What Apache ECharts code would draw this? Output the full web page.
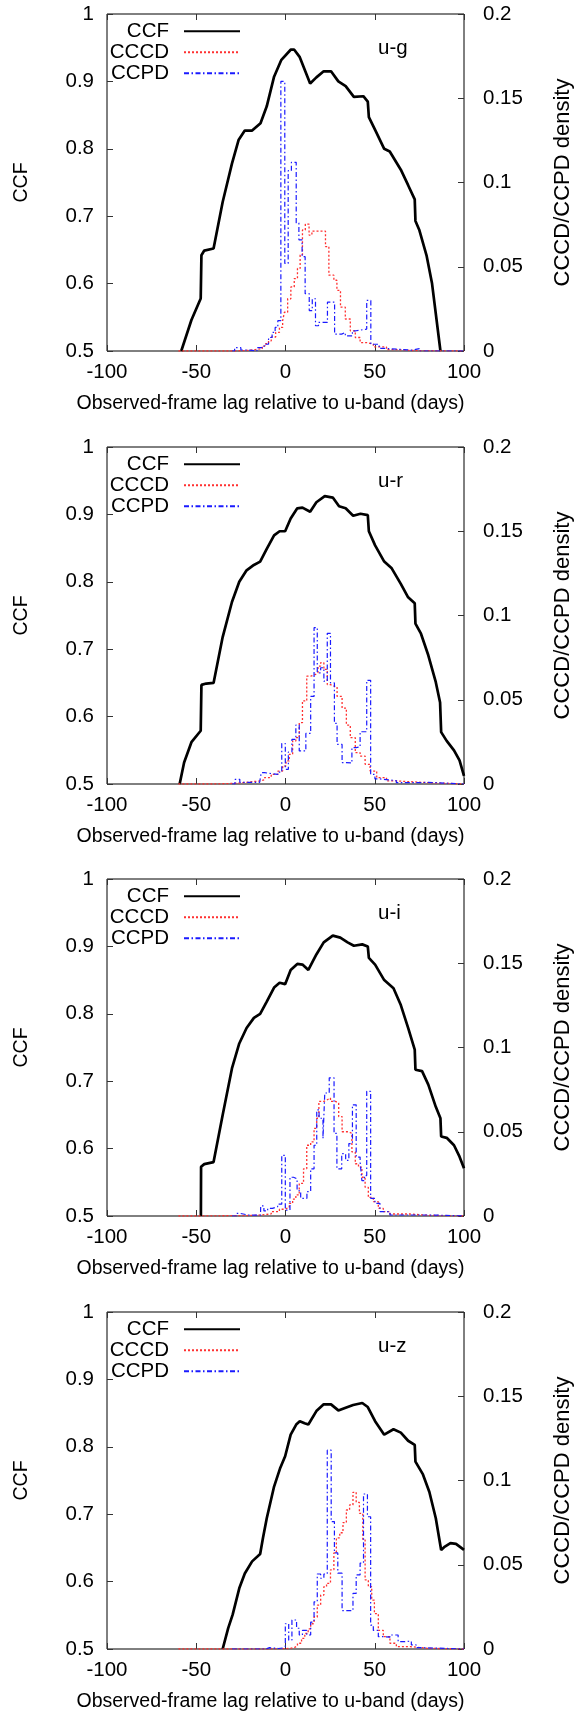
<!DOCTYPE html>
<html><head><meta charset="utf-8">
<script src="https://cdn.jsdelivr.net/npm/echarts@6/dist/echarts.min.js"></script>
<style>html,body{margin:0;padding:0;background:#fff}#c{width:582px;height:1714px}</style>
</head><body><div id="c"></div>
<script>
// ---------- tick labels / names ----------
const xTickLabels = ['-100', '-50', '0', '50', '100'];
const ccfTickLabels = ['0.5', '0.6', '0.7', '0.8', '0.9', '1'];
const densityTickLabels = ['0', '0.05', '0.1', '0.15', '0.2'];
const panelNames = ['u-g', 'u-r', 'u-i', 'u-z'];
const seriesNames = ['CCF', 'CCCD', 'CCPD'];

// ---------- CCF curves [lag, r] ----------
const ccfUG = [[-58.4,0.5],[-52.7,0.546],[-47.5,0.578],[-47.1,0.642],[-45.5,0.649],[-40.3,0.652],[-35.2,0.721],[-30.0,0.778],[-26.3,0.813],[-22.8,0.827],[-18.7,0.827],[-14.0,0.838],[-10.5,0.863],[-6.4,0.907],[-2.3,0.932],[2.9,0.947],[4.9,0.947],[8.0,0.936],[13.8,0.897],[17.3,0.906],[21.4,0.915],[25.5,0.915],[29.6,0.900],[33.7,0.893],[38.3,0.877],[43.6,0.878],[46.1,0.870],[46.7,0.847],[50.2,0.828],[55.3,0.800],[58.4,0.796],[64.6,0.769],[68.7,0.746],[72.4,0.725],[72.8,0.693],[74.9,0.680],[79.0,0.642],[82.1,0.600],[86.8,0.5]];
const ccfUR = [[-59.3,0.5],[-56.8,0.532],[-52.7,0.562],[-47.5,0.579],[-47.1,0.647],[-44.4,0.649],[-40.3,0.650],[-35.2,0.718],[-30.0,0.770],[-25.9,0.800],[-21.8,0.817],[-17.7,0.825],[-14.2,0.830],[-10.5,0.849],[-6.4,0.869],[-3.3,0.875],[-0.2,0.875],[2.9,0.894],[6.6,0.909],[9.5,0.910],[13.8,0.904],[17.3,0.918],[22.0,0.927],[26.5,0.925],[30.0,0.912],[33.7,0.909],[37.9,0.898],[42.0,0.901],[46.1,0.899],[46.7,0.875],[50.2,0.854],[55.3,0.830],[59.5,0.820],[64.6,0.797],[68.7,0.777],[72.4,0.768],[72.8,0.738],[75.9,0.723],[80.0,0.691],[84.2,0.651],[86.6,0.621],[87.2,0.577],[90.3,0.564],[94.4,0.550],[97.5,0.535],[100,0.512]];
const ccfUI = [[-47.4,0.5],[-47.3,0.573],[-45.5,0.577],[-40.3,0.580],[-35.2,0.650],[-30.0,0.719],[-25.9,0.756],[-21.8,0.779],[-17.7,0.794],[-14.2,0.800],[-10.5,0.818],[-6.4,0.839],[-3.3,0.846],[-0.2,0.844],[2.9,0.865],[6.6,0.874],[9.5,0.873],[12.8,0.865],[17.3,0.888],[21.4,0.906],[26.5,0.916],[30.7,0.913],[34.8,0.906],[38.3,0.901],[43.0,0.903],[46.1,0.900],[46.7,0.883],[50.2,0.873],[55.3,0.850],[60.5,0.838],[64.6,0.813],[68.7,0.779],[72.4,0.747],[72.8,0.717],[76.5,0.715],[80.0,0.695],[84.2,0.662],[86.8,0.645],[87.2,0.618],[90.3,0.616],[94.4,0.605],[97.5,0.588],[100,0.571]];
const ccfUZ = [[-35.2,0.5],[-32.1,0.531],[-29.6,0.551],[-25.9,0.590],[-22.8,0.612],[-18.7,0.630],[-14.2,0.641],[-12.6,0.665],[-10.5,0.694],[-6.4,0.741],[-2.9,0.769],[-0.2,0.786],[2.9,0.818],[6.0,0.833],[8.0,0.838],[10.7,0.835],[12.8,0.833],[17.3,0.853],[21.4,0.863],[25.5,0.863],[29.6,0.854],[33.7,0.858],[37.9,0.862],[43.0,0.865],[46.1,0.859],[50.2,0.838],[55.3,0.818],[60.5,0.826],[64.6,0.821],[68.7,0.809],[72.4,0.803],[72.8,0.778],[77.0,0.759],[80.6,0.733],[84.2,0.694],[87.2,0.647],[89.3,0.652],[92.4,0.657],[95.5,0.656],[100,0.647]];

// ---------- CCCD histograms [bin left edge, density] ----------
const cccdUG = [[-60,0],[-28,0.0004],[-20,0.0008],[-17,0.0014],[-13,0.003],[-11.5,0.0044],[-9.5,0.006],[-8,0.0083],[-5.5,0.011],[-3.4,0.014],[-1.6,0.018],[-0.6,0.023],[1.2,0.031],[3.0,0.038],[4.9,0.043],[6.7,0.049],[8.2,0.057],[9.5,0.0718],[11.1,0.0753],[13.2,0.0688],[14.8,0.0711],[22.4,0.062],[24.3,0.045],[27.1,0.042],[28.8,0.036],[30.8,0.026],[33.5,0.019],[36.3,0.012],[39.1,0.008],[41.8,0.005],[45.5,0.004],[49.2,0.0024],[56.6,0.0008],[62,0.0003],[70,0],[100,0]];
const cccdUR = [[-60,0],[-40,0.0004],[-28,0.0012],[-20,0.0018],[-14.5,0.0025],[-11.7,0.0038],[-8,0.0057],[-4.3,0.0077],[-1.6,0.0107],[0.3,0.0137],[2.1,0.0176],[4,0.0255],[5.8,0.0275],[7.7,0.0364],[9.5,0.0493],[11.9,0.064],[14.1,0.065],[16.9,0.066],[18.2,0.070],[19.7,0.072],[21.5,0.068],[23.4,0.059],[25.2,0.058],[27.4,0.0576],[28.9,0.052],[31.7,0.045],[34.1,0.035],[36.3,0.0275],[39.1,0.0186],[41.8,0.0166],[44.6,0.0117],[47.4,0.0077],[51.1,0.0038],[56.6,0.0018],[62.1,0.0008],[80,0],[100,0]];
const cccdUI = [[-60,0],[-48,0.0003],[-20,0.0006],[-13.6,0.0012],[-8,0.0026],[-3.4,0.004],[-0.6,0.005],[2.1,0.0075],[4,0.010],[5.8,0.0125],[7.7,0.0194],[10.1,0.028],[11.9,0.042],[14.1,0.044],[16,0.052],[17.5,0.058],[18.7,0.068],[21.5,0.069],[23.4,0.070],[25.2,0.068],[28,0.067],[29.8,0.059],[31.7,0.050],[35.4,0.049],[37.2,0.038],[39.1,0.031],[40.9,0.029],[42.8,0.023],[44.6,0.017],[46.4,0.011],[49.2,0.0085],[52,0.0045],[54.8,0.0026],[58.5,0.0012],[69.5,0.0004],[80,0],[100,0]];
const cccdUZ = [[-60,0],[-10,0.0003],[2.1,0.0008],[4.9,0.0018],[6.7,0.0034],[9,0.0063],[10.8,0.0093],[12.7,0.012],[14.1,0.015],[16,0.019],[17.8,0.026],[19.7,0.032],[21.5,0.037],[23,0.039],[25.2,0.047],[27.1,0.057],[28.5,0.066],[30.4,0.069],[32.2,0.075],[34.1,0.0825],[35.9,0.0855],[37.8,0.093],[39.6,0.087],[41.4,0.0805],[43.3,0.0647],[44.6,0.041],[46.4,0.037],[48.3,0.029],[49.8,0.021],[52,0.011],[54.8,0.0073],[58.5,0.0034],[62.1,0.0014],[70,0.0004],[80,0],[100,0]];

// ---------- CCPD histograms [bin left edge, density] ----------
const ccpdUG = [[-30,0],[-28.5,0.002],[-25,0.0006],[-21,0],[-16,0.002],[-12,0.004],[-9.5,0.008],[-7.5,0.011],[-5.8,0.014],[-4.3,0.018],[-2.6,0.160],[-0.4,0.052],[1.5,0.107],[3.3,0.112],[6.0,0.076],[7.5,0.066],[9.3,0.056],[11.0,0.034],[13.3,0.024],[15.0,0.031],[16.8,0.015],[18.5,0.017],[23.5,0.029],[27.5,0.010],[31.5,0.011],[33.5,0.009],[37.5,0.012],[39.5,0.013],[45.5,0.030],[47.8,0.004],[52.5,0.0015],[56,0.0005],[71,0.0014],[75,0],[100,0]];
const ccpdUR = [[-30,0],[-28.3,0.0028],[-25.6,0.001],[-21.9,0.001],[-14.5,0.0015],[-13.6,0.0067],[-11.7,0.0057],[-4.3,0.007],[-2.1,0.024],[-0.1,0.0087],[1.6,0.019],[3.6,0.0265],[5.8,0.035],[7.7,0.0196],[11.4,0.030],[14.1,0.052],[16.0,0.0928],[17.8,0.066],[19.7,0.069],[21.5,0.061],[23.4,0.0894],[25.2,0.060],[27.4,0.036],[28.9,0.0235],[31.7,0.0127],[34.1,0.0125],[37.2,0.0216],[39.6,0.022],[41.8,0.031],[45.5,0.0615],[47.7,0.0057],[50.1,0.003],[52.9,0.002],[62.1,0.0008],[75,0.001],[80,0],[100,0]];
const ccpdUI = [[-30,0],[-27.4,0.0016],[-25.6,0.0006],[-21,0.0005],[-14,0.0006],[-13.9,0.006],[-12.1,0.003],[-10,0.0045],[-7.3,0.0055],[-4.4,0.007],[-2.1,0.036],[-0.1,0.0035],[2.5,0.023],[4.5,0.022],[6.5,0.015],[8.5,0.0105],[12.0,0.0145],[14.1,0.028],[16.0,0.042],[17.5,0.063],[18.8,0.058],[21.0,0.046],[22.0,0.073],[24.5,0.082],[27.2,0.049],[28.8,0.028],[31.5,0.037],[33.7,0.033],[35.5,0.043],[37.5,0.066],[39.6,0.035],[41.8,0.032],[42.8,0.021],[44.2,0.024],[45.5,0.074],[47.7,0.0105],[50.1,0.0075],[52.9,0.0026],[58.5,0.0006],[80,0.0004],[90,0],[100,0]];
const ccpdUZ = [[-30,0],[-10.8,0.0008],[-9,0.0003],[-4,0.0006],[-1.6,0.0015],[-0.1,0.015],[1.8,0.0053],[3.6,0.0172],[6.2,0.0123],[7.7,0.0083],[9.5,0.011],[11.9,0.0083],[14.1,0.016],[16.0,0.028],[17.8,0.0445],[19.7,0.042],[21.5,0.0445],[23.4,0.118],[25.6,0.0756],[27.4,0.057],[29.3,0.045],[31.7,0.0228],[37.8,0.033],[39.6,0.044],[41.8,0.051],[43.7,0.092],[45.9,0.0785],[47.7,0.0142],[49.2,0.011],[52.0,0.0073],[54.8,0.007],[58.5,0.0083],[63.1,0.0044],[66.8,0.0047],[70.5,0.0024],[73.2,0.0008],[77,0],[100,0]];

const panelData = [
  [ccfUG, cccdUG, ccpdUG],
  [ccfUR, cccdUR, ccpdUR],
  [ccfUI, cccdUI, ccpdUI],
  [ccfUZ, cccdUZ, ccpdUZ]
];

// ---------- layout / style ----------
const FONT = '"Liberation Sans", Arial, Helvetica, sans-serif';
const gridTops = [14, 447, 879, 1312];
const gridLeft = 107, gridWidth = 361, gridHeight = 337;
const pick = (labels) => (v) => { const l = labels.find(s => Math.abs(+s - v) < 1e-9); return l === undefined ? '' : l; };
const tickStyle = { inside: true, length: 6, lineStyle: { color: '#333', width: 1 } };
const labelStyle = { color: '#000', fontSize: 20.5, fontFamily: FONT };
const noLine = { show: false, onZero: false };
const lineStyles = [
  { color: '#000', width: 2.7, type: 'solid' },
  { color: '#ff3030', width: 1.3, type: [2, 2] },
  { color: '#1a1aff', width: 1.2, type: [5, 2.5, 1.5, 2.5] }
];

const grid = [], xAxis = [], yAxis = [], series = [], legend = [], title = [];
panelNames.forEach((pname, i) => {
  const top = gridTops[i];
  grid.push({ left: gridLeft, top: top, width: gridWidth, height: gridHeight, show: true, borderColor: '#000', borderWidth: 1, backgroundColor: 'transparent' });
  xAxis.push({
    gridIndex: i, type: 'value', min: -100, max: 100, interval: 50, position: 'bottom',
    axisLine: noLine, axisTick: tickStyle, splitLine: { show: false },
    axisLabel: Object.assign({ margin: 11, formatter: pick(xTickLabels) }, labelStyle),
    name: 'Observed-frame lag relative to u-band (days)', nameLocation: 'middle', nameGap: 43,
    nameTextStyle: { color: '#000', fontSize: 19.5, fontFamily: FONT, padding: [0, 30, 0, 0] }
  });
  xAxis.push({
    gridIndex: i, type: 'value', min: -100, max: 100, interval: 50, position: 'top',
    axisLine: noLine, axisTick: tickStyle, splitLine: { show: false }, axisLabel: { show: false }
  });
  yAxis.push({
    gridIndex: i, type: 'value', min: 0.5, max: 1, interval: 0.1, position: 'left',
    axisLine: noLine, axisTick: tickStyle, splitLine: { show: false },
    axisLabel: Object.assign({ margin: 13, formatter: pick(ccfTickLabels) }, labelStyle),
    name: 'CCF', nameLocation: 'middle', nameRotate: 90, nameGap: 75.5,
    nameTextStyle: { color: '#000', fontSize: 19.5, fontFamily: FONT }
  });
  yAxis.push({
    gridIndex: i, type: 'value', min: 0, max: 0.2, interval: 0.05, position: 'right',
    axisLine: noLine, axisTick: tickStyle, splitLine: { show: false },
    axisLabel: Object.assign({ margin: 19, formatter: pick(densityTickLabels) }, labelStyle),
    name: 'CCCD/CCPD density', nameLocation: 'middle', nameRotate: 90, nameGap: 88,
    nameTextStyle: { color: '#000', fontSize: 22, fontFamily: FONT }
  });
  panelData[i].forEach((d, k) => {
    series.push({
      name: seriesNames[k], type: 'line', xAxisIndex: 2 * i, yAxisIndex: k === 0 ? 2 * i : 2 * i + 1,
      data: d, symbol: 'none', step: k === 0 ? false : 'end', smooth: false,
      lineStyle: lineStyles[k], silent: true, animation: false, z: 3 + k, clip: true
    });
    legend.push({
      data: [seriesNames[k]], orient: 'vertical', right: 582 - 241, top: top + 16.7 + 21 * k - 10,
      align: 'right', itemWidth: 56, itemHeight: 20, padding: 0, selectedMode: false,
      itemStyle: { color: 'rgba(0,0,0,0)', borderWidth: 0, opacity: 0 },
      textStyle: { color: '#000', fontSize: 20.5, fontFamily: FONT, padding: [0, 10, 0, 0] }
    });
  });
  title.push({ text: pname, left: 378, top: top + 24, padding: 0,
    textStyle: { color: '#000', fontSize: 20.5, fontWeight: 'normal', fontFamily: FONT } });
});

const chart = echarts.init(document.getElementById('c'), null, { renderer: 'canvas' });
chart.setOption({ animation: false, backgroundColor: '#fff', grid, xAxis, yAxis, series, legend, title });
</script>
</body></html>
